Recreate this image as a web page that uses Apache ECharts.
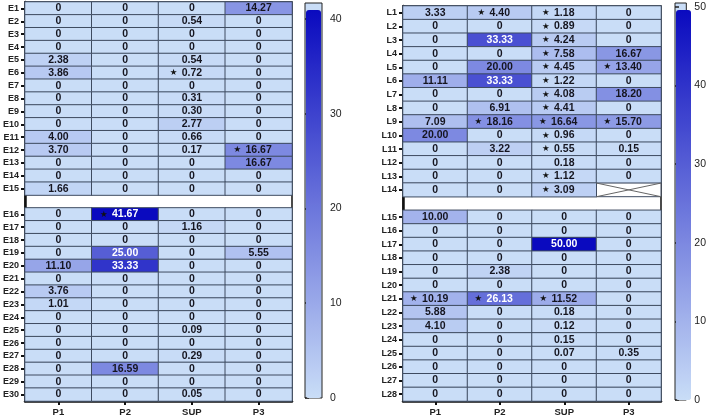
<!DOCTYPE html>
<html>
<head>
<meta charset="utf-8">
<script src="https://cdn.jsdelivr.net/npm/echarts@6/dist/echarts.min.js"></script>
<style>
  html, body { margin: 0; padding: 0; background: #fff; }
  #chart { width: 709px; height: 420px; }
</style>
</head>
<body>
<div id="chart"></div>
<script>
// columns shared by both panels
const cols = ['P1', 'P2', 'SUP', 'P3']

// left panel rows ('' is the blank separator row)
const rowsE = ['E1','E2','E3','E4','E5','E6','E7','E8','E9','E10','E11','E12','E13','E14','E15','',
  'E16','E17','E18','E19','E20','E21','E22','E23','E24','E25','E26','E27','E28','E29','E30']
const eP1  = [0,0,0,0,2.38,3.86,0,0,0,0,4.00,3.70,0,0,1.66, 0,0,0,0,11.10,0,3.76,1.01,0,0,0,0,0,0,0]
const eP2  = [0,0,0,0,0,0,0,0,0,0,0,0,0,0,0, 41.67,0,0,25.00,33.33,0,0,0,0,0,0,0,16.59,0,0]
const eSUP = [0,0.54,0,0,0.54,0.72,0,0.31,0.30,2.77,0.66,0.17,0,0,0, 0,1.16,0,0,0,0,0,0,0,0.09,0,0.29,0,0,0.05]
const eP3  = [14.27,0,0,0,0,0,0,0,0,0,0,16.67,16.67,0,0, 0,0,0,5.55,0,0,0,0,0,0,0,0,0,0,0]
const eStars = [['SUP','E6'], ['P3','E12'], ['P2','E16']]
const eTicks = [0, 10, 20, 30, 40]
const eMax = 41.67

// right panel rows
const rowsL = ['L1','L2','L3','L4','L5','L6','L7','L8','L9','L10','L11','L12','L13','L14','',
  'L15','L16','L17','L18','L19','L20','L21','L22','L23','L24','L25','L26','L27','L28']
const lP1  = [3.33,0,0,0,0,11.11,0,0,7.09,20.00,0,0,0,0, 10.00,0,0,0,0,0,10.19,5.88,4.10,0,0,0,0,0]
const lP2  = [4.40,0,33.33,0,20.00,33.33,0,6.91,18.16,0,3.22,0,0,0, 0,0,0,0,2.38,0,26.13,0,0,0,0,0,0,0]
const lSUP = [1.18,0.89,4.24,7.58,4.45,1.22,4.08,4.41,16.64,0.96,0.55,0.18,1.12,3.09, 0,0,50.00,0,0,0,11.52,0.18,0.12,0.15,0.07,0,0,0]
const lP3  = [0,0,0,16.67,13.40,0,18.20,0,15.70,0,0.15,0,0,null, 0,0,0,0,0,0,0,0,0,0,0.35,0,0,0]
const lStars = [['P2','L1'],['SUP','L1'],['SUP','L2'],['SUP','L3'],['SUP','L4'],['SUP','L5'],['P3','L5'],
  ['SUP','L6'],['SUP','L7'],['SUP','L8'],['P2','L9'],['SUP','L9'],['P3','L9'],['SUP','L10'],['SUP','L11'],
  ['SUP','L13'],['SUP','L14'],['P1','L21'],['P2','L21'],['SUP','L21']]
const lMissing = [['P3','L14']]
const lTicks = [0, 10, 20, 30, 40, 50]
const lMax = 50

const light = '#c9ddf7'
const dark = '#0a0abf'
const font = 'Liberation Sans, Arial, sans-serif'

function buildData(rows, colArrays, stars) {
  let out = []
  let names = rows.filter(r => r !== '')
  names.forEach((r, i) => {
    colArrays.forEach((arr, c) => {
      let v = arr[i]
      if (v === null || v === undefined) return
      let star = stars.some(s => s[0] === cols[c] && s[1] === r)
      out.push({ value: [c, r, v], star: star })
    })
  })
  return out
}

const eData = buildData(rowsE, [eP1, eP2, eSUP, eP3], eStars)
const lData = buildData(rowsL, [lP1, lP2, lSUP, lP3], lStars)

function cellLabel(p) {
  let v = p.value[2]
  let txt = v === 0 ? '0' : v.toFixed(2)
  let st = v > 22 ? 'w' : 'v'
  if (p.data.star) return '{s|★}{' + st + '|' + txt + '}{p|}'
  return '{' + st + '|' + txt + '}'
}

const labelCfg = {
  show: true,
  formatter: cellLabel,
  rich: {
    v: { fontFamily: font, fontWeight: 'bold', fontSize: 10.5, color: '#15151f' },
    w: { fontFamily: font, fontWeight: 'bold', fontSize: 10.5, color: '#ffffff' },
    s: { fontFamily: 'DejaVu Sans', fontSize: 8.5, color: '#111', width: 12, align: 'left' },
    p: { width: 12 }
  }
}

const cellStyle = { borderColor: '#3e4b60', borderWidth: 1 }

function catY(rows, gridIndex) {
  return {
    type: 'category', gridIndex: gridIndex, data: rows, inverse: true,
    axisLine: { show: true, lineStyle: { color: '#111', width: 2.5 } },
    axisTick: { show: true, alignWithLabel: true, length: 4, lineStyle: { color: '#111', width: 2 },
      interval: (i, val) => val !== '' },
    axisLabel: { fontFamily: font, fontWeight: 'bold', fontSize: 9, color: '#222', margin: 6 },
    splitLine: { show: false }
  }
}

function catX(gridIndex) {
  return {
    type: 'category', gridIndex: gridIndex, data: cols, position: 'bottom',
    axisLine: { show: true, lineStyle: { color: '#111', width: 2.5 } },
    axisTick: { show: true, alignWithLabel: true, length: 4, lineStyle: { color: '#111', width: 2 } },
    axisLabel: { fontFamily: font, fontWeight: 'bold', fontSize: 9.5, color: '#222', margin: 6 },
    splitLine: { show: false }
  }
}

function barAxisY(gridIndex, max, ticks) {
  return {
    type: 'value', gridIndex: gridIndex, min: 0, max: max, position: 'right',
    axisLine: { show: false },
    axisTick: { show: true, length: 4, customValues: ticks, lineStyle: { color: '#222', width: 1.5 } },
    axisLabel: { fontFamily: font, fontSize: 10.5, color: '#222', margin: 8, customValues: ticks },
    splitLine: { show: false }
  }
}

let option = {
  animation: false,
  backgroundColor: '#fff',
  grid: [
    { left: 23, top: 2, width: 269, height: 399, show: true, borderColor: '#111', borderWidth: 1.5 },
    { left: 403, top: 6, width: 258, height: 395, show: true, borderColor: '#111', borderWidth: 1.5 },
    { left: 305, top: 3, width: 17, height: 395, show: true, borderColor: '#222', borderWidth: 1, backgroundColor: light },
    { left: 675, top: 3, width: 17, height: 397, show: true, borderColor: '#222', borderWidth: 1, backgroundColor: light }
  ],
  xAxis: [
    catX(0), catX(1),
    { type: 'value', gridIndex: 2, show: false },
    { type: 'value', gridIndex: 3, show: false }
  ],
  yAxis: [
    catY(rowsE, 0), catY(rowsL, 1),
    barAxisY(2, eMax, eTicks),
    barAxisY(3, lMax + 0.5, lTicks)
  ],
  visualMap: [
    {
      type: 'continuous', seriesIndex: 0, min: 0, max: eMax, calculable: false,
      left: 306, top: 10, itemWidth: 15, itemHeight: 388, padding: 0,
      text: null, showLabel: false, inRange: { color: [light, dark] }
    },
    {
      type: 'continuous', seriesIndex: 1, min: 0, max: lMax, calculable: false,
      left: 676, top: 10, itemWidth: 15, itemHeight: 390, padding: 0,
      text: null, showLabel: false, inRange: { color: [light, dark] }
    }
  ],
  series: [
    {
      type: 'heatmap', xAxisIndex: 0, yAxisIndex: 0, data: eData,
      itemStyle: cellStyle, label: labelCfg, emphasis: { disabled: true }
    },
    {
      type: 'heatmap', xAxisIndex: 1, yAxisIndex: 1, data: lData,
      itemStyle: cellStyle, label: labelCfg, emphasis: { disabled: true }
    },
    {
      // missing cell drawn as a crossed box
      type: 'custom', xAxisIndex: 1, yAxisIndex: 1,
      data: lMissing.map(m => [cols.indexOf(m[0]), rowsL.indexOf(m[1])]),
      renderItem: function (params, api) {
        let c = api.coord([api.value(0), api.value(1)])
        let s = api.size([1, 1])
        let x0 = c[0] - s[0] / 2, y0 = c[1] - s[1] / 2
        return {
          type: 'group',
          children: [
            { type: 'rect', shape: { x: x0, y: y0, width: s[0], height: s[1] },
              style: { fill: '#fff', stroke: '#3e4b60', lineWidth: 1 } },
            { type: 'line', shape: { x1: x0, y1: y0, x2: x0 + s[0], y2: y0 + s[1] },
              style: { stroke: '#666', lineWidth: 1 } },
            { type: 'line', shape: { x1: x0, y1: y0 + s[1], x2: x0 + s[0], y2: y0 },
              style: { stroke: '#666', lineWidth: 1 } }
          ]
        }
      }
    }
  ]
}

let myChart = echarts.init(document.getElementById('chart'), null, { renderer: 'canvas' })
myChart.setOption(option)
</script>
</body>
</html>
